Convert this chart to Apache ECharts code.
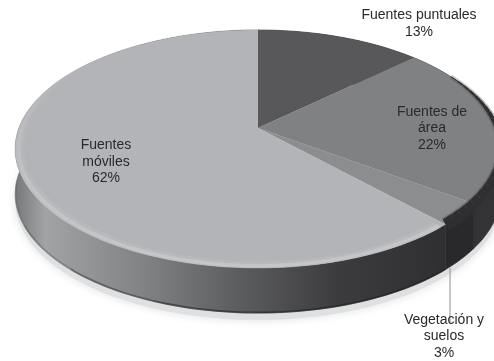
<!DOCTYPE html>
<html><head><meta charset="utf-8">
<script src="https://cdn.jsdelivr.net/npm/echarts@6/dist/echarts.min.js"></script>
<style>html,body{margin:0;background:#fff}#c{width:494px;height:361px;filter:blur(0.35px)}</style></head>
<body><div id="c"></div>
<script>
const categories = ['Fuentes puntuales', 'Fuentes de\nárea', 'Vegetación y\nsuelos', 'Fuentes\nmóviles'];
const values = [13, 22, 3, 62];
const topColors = ['#58585a', '#808183', '#8c8d8f', '#b3b4b7'];

const labelAnchors = [[419, 23.5], [432, 128.5], [444, 336.5], [106, 162]];
const CX = 258, CY = 128, A = 239, S = 115.3, K = 0.176, DEPTH = 45;
const total = values.reduce((a, b) => a + b, 0);
const starts = []; let acc = 0;
values.forEach(v => { starts.push(acc / total); acc += v; });

function pt(frac, r, dy) {
  const t = frac * Math.PI * 2, u = r * Math.sin(t), v = -r * Math.cos(t), w = 1 - K * v;
  return [CX + A * u / w, CY + S * v / w + (dy || 0)];
}
function arc(f0, f1, r, dy) {
  const n = Math.max(4, Math.ceil((f1 - f0) * 240)), out = [];
  for (let i = 0; i <= n; i++) out.push(pt(f0 + (f1 - f0) * i / n, r, dy));
  return out;
}
const G = echarts.graphic.LinearGradient;
const sideFill = [
  '#2f2f31', '#333335', '#29292b',
  new G(15, 0, 445, 0, [
    {offset: 0, color: '#77787a'}, {offset: 0.07, color: '#a2a3a5'}, {offset: 0.3, color: '#818284'},
    {offset: 0.5, color: '#5f6062'}, {offset: 0.75, color: '#3c3c3e'}, {offset: 1, color: '#2f2f31'}
  ], true)
];

function shadowItem(params) {
  if (params.dataIndex !== 0) return null;
  return {type: 'polygon', shape: {points: arc(0, 1, 1, DEPTH + 7)},
    style: {fill: '#dfe0e2', shadowBlur: 10, shadowColor: '#dfe0e2'}};
}
function sideItem(params, api) {
  const i = params.dataIndex, f0 = starts[i], f1 = f0 + api.value(0) / total;
  const pts = arc(f0, f1, 1, 0).concat(arc(f0, f1, 1, DEPTH).reverse());
  const kids = [{type: 'polygon', shape: {points: pts}, style: {fill: sideFill[i], stroke: sideFill[i], lineWidth: 0.6}}];
  if (i === 3) {
    [[f0, 0.56, 0.55], [0.56, 0.62, 0.4], [0.62, 0.68, 0.22], [0.68, 0.74, 0.1]].forEach(s =>
      kids.push({type: 'polyline', shape: {points: arc(s[0], s[1], 0.998, DEPTH)},
        style: {fill: 'none', stroke: 'rgba(28,28,30,' + s[2] + ')', lineWidth: 2}}));
  }
  return {type: 'group', children: kids};
}
function topItem(params, api) {
  const i = params.dataIndex, f0 = starts[i], f1 = f0 + api.value(0) / total;
  return {type: 'polygon', shape: {points: [pt(0, 0)].concat(arc(f0, f1, 1, 0))},
    style: {fill: topColors[i]}};
}
function rimItem(params, api) {
  const i = params.dataIndex, f0 = starts[i], f1 = f0 + api.value(0) / total;
  const children = [];
  if (i === 3) {
    const a0 = f0 + 0.004, a1 = 0.84, steps = Math.ceil((a1 - a0) * 120);
    for (let j = 0; j < steps; j++) {
      const p = a0 + (a1 - a0) * j / steps, q = a0 + (a1 - a0) * (j + 1) / steps;
      const env = p < 0.66 ? 1 : Math.max(0, 1 - (p - 0.66) / 0.18);
      [[0.995, 2.5, 0.65, '196,197,199'], [0.985, 3, 0.6, '208,209,211'], [0.972, 4, 0.28, '198,199,201']].forEach(b =>
        children.push({type: 'polyline', shape: {points: arc(p, q, b[0], 0)},
          style: {fill: 'none', stroke: 'rgba(' + b[3] + ',' + (b[2] * env).toFixed(3) + ')', lineWidth: b[1], lineCap: 'butt'}}));
    }
  } else if (i === 1 || i === 2) {
    const a0 = Math.max(f0, 0.17), steps = Math.ceil((f1 - a0) * 120);
    for (let j = 0; j < steps; j++) {
      const p = a0 + (f1 - a0) * j / steps, q = a0 + (f1 - a0) * (j + 1) / steps;
      const e = (p - 0.17) / 0.21, w = 1 + 11 * e;
      children.push({type: 'polyline', shape: {points: arc(p, q, 1, 0)},
        style: {fill: 'none', stroke: 'rgba(60,60,62,0.3)', lineWidth: w + 3}});
      children.push({type: 'polyline', shape: {points: arc(p, q, 1, 0)},
        style: {fill: 'none', stroke: '#2f2f31', lineWidth: w}});
    }
  }
  return {type: 'group', children};
}
function labelItem(params, api) {
  const i = params.dataIndex, a = labelAnchors[i];
  const kids = [{type: 'text', style: {
    text: categories[i] + '\n' + api.value(0) + '%', x: a[0], y: a[1], align: 'center', verticalAlign: 'middle',
    textAlign: 'center', textVerticalAlign: 'middle', lineHeight: 16.5,
    font: '14px "Liberation Sans"', fill: '#2a2a2c'}}];
  if (i === 2) kids.unshift({type: 'line', shape: {x1: 450, y1: 268, x2: 450, y2: 324},
    style: {stroke: '#8e8f91', lineWidth: 1}});
  return {type: 'group', children: kids};
}
const base = {type: 'custom', coordinateSystem: 'none', data: values, silent: true, animation: false, clip: false};
echarts.init(document.getElementById('c'), null, {renderer: 'canvas'}).setOption({
  animation: false,
  backgroundColor: '#fff',
  series: [shadowItem, sideItem, topItem, rimItem, labelItem].map(fn => Object.assign({}, base, {renderItem: fn}))
});
</script></body></html>
